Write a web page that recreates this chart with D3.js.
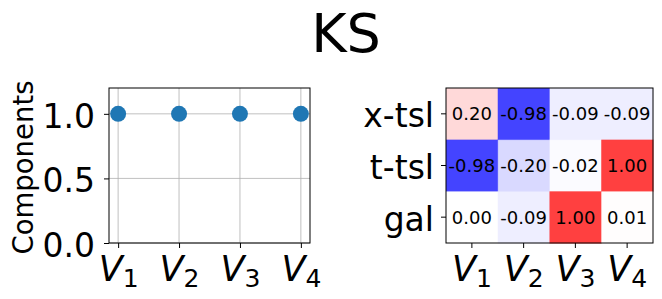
<!DOCTYPE html>
<html>
<head>
<meta charset="utf-8">
<script src="https://cdn.jsdelivr.net/npm/d3@7"></script>
<style>
body { margin: 0; background: #fff; }
text { font-family: "DejaVu Sans", sans-serif; }
</style>
</head>
<body>
<script>
var w = 662;
var h = 299;

// data
var title = "KS";
var vars = ["V1", "V2", "V3", "V4"];
var comps = [1.0, 1.0, 1.0, 1.0];
var yTicks = [0.0, 0.5, 1.0];
var rows = ["x-tsl", "t-tsl", "gal"];
var corrXtsl = [0.20, -0.98, -0.09, -0.09];
var corrTtsl = [-0.98, -0.20, -0.02, 1.00];
var corrGal = [0.00, -0.09, 1.00, 0.01];

var cells = [];
[corrXtsl, corrTtsl, corrGal].forEach(function(vals, i) {
    vals.forEach(function(v, j) {
        cells.push({"row": rows[i], "col": vars[j], "value": v});
    });
});

var svg = d3.select("body")
            .append("svg")
            .attr("width", w)
            .attr("height", h);

svg.append("text")
    .attr("x", 346)
    .attr("y", 52)
    .attr("text-anchor", "middle")
    .attr("font-size", "54px")
    .attr("fill", "black")
    .text(title);

// subscript labels like V_1
function subLabel(sel) {
    sel.each(function(d) {
        var t = d3.select(this);
        t.text("");
        t.append("tspan").attr("font-style", "italic").text(d.charAt(0));
        t.append("tspan").attr("font-size", "25px").attr("dy", "6").text(d.slice(1));
    });
}

// ---- left panel: components
var L = {left: 109, right: 310, top: 88, bottom: 243};
var x1 = d3.scalePoint().domain(vars).range([L.left, L.right]).padding(0.15);
var y1 = d3.scaleLinear().domain([0, 1.2]).range([L.bottom, L.top]);

var g1 = svg.append("g");

// grid
g1.selectAll(".gx").data(vars).enter().append("line")
    .attr("x1", function(d){ return x1(d); })
    .attr("x2", function(d){ return x1(d); })
    .attr("y1", L.top).attr("y2", L.bottom)
    .attr("stroke", "#b0b0b0").attr("stroke-width", 0.8);
g1.selectAll(".gy").data(yTicks).enter().append("line")
    .attr("x1", L.left).attr("x2", L.right)
    .attr("y1", function(d){ return y1(d); })
    .attr("y2", function(d){ return y1(d); })
    .attr("stroke", "#b0b0b0").attr("stroke-width", 0.8);

g1.selectAll("circle").data(comps).enter().append("circle")
    .attr("cx", function(d, i){ return x1(vars[i]); })
    .attr("cy", function(d){ return y1(d); })
    .attr("r", 8)
    .attr("fill", "#1f77b4");

g1.append("rect")
    .attr("x", L.left).attr("y", L.top)
    .attr("width", L.right - L.left).attr("height", L.bottom - L.top)
    .attr("fill", "none").attr("stroke", "black").attr("stroke-width", 1);

var ax1 = g1.append("g")
    .attr("transform", "translate(" + L.left + ",0)")
    .call(d3.axisLeft(y1).tickValues(yTicks).tickFormat(d3.format(".1f")).tickSize(5).tickPadding(9));
var bx1 = g1.append("g")
    .attr("transform", "translate(0," + L.bottom + ")")
    .call(d3.axisBottom(x1).tickSize(5).tickPadding(7));

g1.append("text")
    .attr("transform", "translate(33," + ((L.top + L.bottom) / 2 + 2) + ") rotate(-90)")
    .attr("text-anchor", "middle")
    .attr("font-size", "27.5px")
    .attr("fill", "black")
    .text("Components");

// ---- right panel: correlation heatmap
var R = {left: 446, right: 653, top: 88, bottom: 243};
var x2 = d3.scaleBand().domain(vars).range([R.left, R.right]);
var y2 = d3.scaleBand().domain(rows).range([R.top, R.bottom]);
var color = d3.scaleLinear().domain([-1, 0, 1]).range(["#0000ff", "#ffffff", "#ff0000"]);

var g2 = svg.append("g");
g2.selectAll("rect.cell").data(cells).enter().append("rect")
    .attr("class", "cell")
    .attr("x", function(d){ return x2(d.col); })
    .attr("y", function(d){ return y2(d.row); })
    .attr("width", x2.bandwidth() + 0.5)
    .attr("height", y2.bandwidth() + 0.5)
    .attr("fill", function(d){ return color(d.value); })
    .attr("fill-opacity", 0.75);

g2.selectAll("text.val").data(cells).enter().append("text")
    .attr("class", "val")
    .attr("x", function(d){ return x2(d.col) + x2.bandwidth() / 2; })
    .attr("y", function(d){ return y2(d.row) + y2.bandwidth() / 2; })
    .attr("dy", "0.36em")
    .attr("text-anchor", "middle")
    .attr("font-size", "18px")
    .attr("fill", "black")
    .text(function(d){ return d.value.toFixed(2); });

g2.append("rect")
    .attr("x", R.left).attr("y", R.top)
    .attr("width", R.right - R.left).attr("height", R.bottom - R.top)
    .attr("fill", "none").attr("stroke", "black").attr("stroke-width", 1);

var ax2 = g2.append("g")
    .attr("transform", "translate(" + R.left + ",0)")
    .call(d3.axisLeft(y2).tickSize(5).tickPadding(7));
var bx2 = g2.append("g")
    .attr("transform", "translate(0," + R.bottom + ")")
    .call(d3.axisBottom(x2).tickSize(5).tickPadding(7));

// axis styling
[ax1, ax2].forEach(function(a) {
    a.select(".domain").remove();
    a.selectAll("text").attr("font-size", "33px").attr("fill", "black")
        .attr("font-family", "DejaVu Sans").attr("dy", "0.41em");
});
[bx1, bx2].forEach(function(a) {
    a.select(".domain").remove();
    a.selectAll("text").attr("font-size", "35px").attr("fill", "black")
        .attr("font-family", "DejaVu Sans").attr("dy", null).attr("y", 38)
        .call(subLabel);
});
svg.selectAll(".tick line").attr("stroke", "black").attr("stroke-width", 1);
</script>
</body>
</html>
